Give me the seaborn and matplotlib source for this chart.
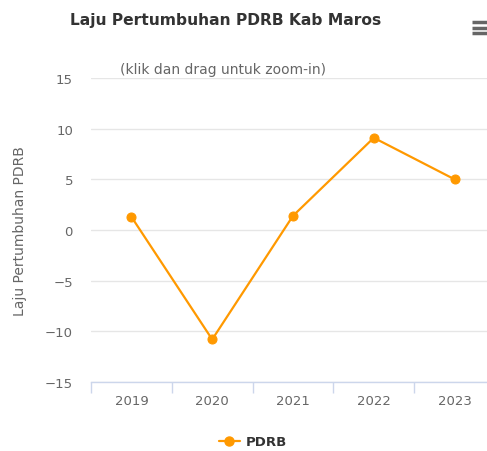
import pandas as pd
import matplotlib
matplotlib.use("Agg")
import matplotlib.pyplot as plt
import seaborn as sns
from matplotlib.lines import Line2D

# ─────────────────────────────
# DATA
# ─────────────────────────────
years = ["2019", "2020", "2021", "2022", "2023"]
pdrb = [1.3, -10.8, 1.4, 9.1, 5.0]
y_ticks = [-15, -10, -5, 0, 5, 10, 15]

df = pd.DataFrame({"Tahun": years, "PDRB": pdrb})

ORANGE = "#FF9900"
GREY_TXT = "#666666"

sns.set_style("white")
plt.rcParams["font.family"] = ["DejaVu Sans"]

# ─────────────────────────────
# FIGURE
# ─────────────────────────────
fig = plt.figure(figsize=(4.87, 4.52), dpi=100)
ax = fig.add_axes([91 / 487, 69 / 452, 404 / 487, 304 / 452])

sns.lineplot(data=df, x="Tahun", y="PDRB", ax=ax, color=ORANGE,
             linewidth=1.6, marker="o", markersize=6.5,
             markeredgecolor=ORANGE, legend=False)

ax.set_xlim(-0.5, 4.5)
ax.set_ylim(-15, 15)
ax.set_yticks(y_ticks)
ax.set_yticklabels([str(v).replace("-", "−") for v in y_ticks])
ax.grid(axis="y", color="#e6e6e6", linewidth=1)
ax.set_axisbelow(True)

for s in ["top", "right", "left"]:
    ax.spines[s].set_visible(False)
ax.spines["bottom"].set_color("#ccd6eb")
ax.spines["bottom"].set_linewidth(1)

# category band boundaries as tick marks
ax.set_xticks([i - 0.5 for i in range(len(years) + 1)], minor=True)
ax.tick_params(axis="x", which="minor", bottom=True, length=8,
               color="#ccd6eb", width=1, direction="out")
ax.tick_params(axis="x", which="major", length=0, pad=9,
               labelsize=9.5, labelcolor=GREY_TXT)
ax.tick_params(axis="y", length=0, pad=13, labelsize=9.5,
               labelcolor=GREY_TXT)

ax.set_xlabel("")
ax.set_ylabel("Laju Pertumbuhan PDRB", color=GREY_TXT, fontsize=10,
              labelpad=13)

# title + subtitle
fig.text(226 / 487, 1 - 20 / 452, "Laju Pertumbuhan PDRB Kab Maros",
         ha="center", va="center", fontsize=11.2, fontweight="bold",
         color="#333333")
fig.text(120 / 487, 1 - 70 / 452, "(klik dan drag untuk zoom-in)",
         ha="left", va="center", fontsize=10, color=GREY_TXT)

# menu icon
for yy in [23, 29, 34]:
    fig.add_artist(Line2D([472 / 487, 487 / 487],
                          [1 - yy / 452, 1 - yy / 452],
                          transform=fig.transFigure, color=GREY_TXT,
                          linewidth=2.5, solid_capstyle="butt"))

# legend
handle = Line2D([], [], color=ORANGE, linewidth=1.6, marker="o",
                markersize=6.5)
fig.legend([handle], ["PDRB"], loc="center", bbox_to_anchor=(253 / 487, 1 - 443 / 452),
           frameon=False, handlelength=1.6, handletextpad=0.5,
           prop={"weight": "bold", "size": 9.5}, labelcolor="#333333")

fig.savefig("out.png", dpi=100)
